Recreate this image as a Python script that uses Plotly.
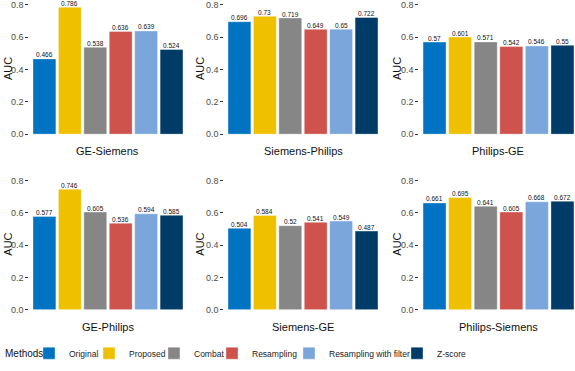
import plotly.graph_objects as go

methods = ["Original", "Proposed", "Combat", "Resampling", "Resampling with filter", "Z-score"]
colors = ["#0073C2", "#EFC000", "#868686", "#CD534C", "#7AA6DC", "#003C67"]
panels = ["GE-Siemens", "Siemens-Philips", "Philips-GE", "GE-Philips", "Siemens-GE", "Philips-Siemens"]
# values per panel, in method order
ge_siemens = [0.466, 0.786, 0.538, 0.636, 0.639, 0.524]
siemens_philips = [0.696, 0.73, 0.719, 0.649, 0.65, 0.722]
philips_ge = [0.57, 0.601, 0.571, 0.542, 0.546, 0.55]
ge_philips = [0.577, 0.746, 0.605, 0.536, 0.594, 0.585]
siemens_ge = [0.504, 0.584, 0.52, 0.541, 0.549, 0.487]
philips_siemens = [0.661, 0.695, 0.641, 0.605, 0.668, 0.672]
panel_values = [ge_siemens, siemens_philips, philips_ge, ge_philips, siemens_ge, philips_siemens]
y_ticks = [0.0, 0.2, 0.4, 0.6, 0.8]

W, H = 575, 371
FONT = "Liberation Sans, Arial, sans-serif"

def fx(px):
    return px / W

def fy(py):
    return 1 - py / H

col_px = [(29.2, 186.8), (224.2, 381.8), (419.2, 575.0)]
col_range = [[-0.6, 5.6], [-0.6, 5.6], [-0.6, 5.49]]
row_px = [(0.0, 136.0), (178.0, 314.0)]  # top, bottom (y=0 at bottom)
YMAX = 0.8305
legend_key_px = [43, 103, 168, 226, 303, 411]

fig = go.Figure()
layout = {}
annotations = []

for p, name in enumerate(panels):
    r, c = divmod(p, 3)
    idx = p + 1
    xa = "x" if idx == 1 else f"x{idx}"
    ya = "y" if idx == 1 else f"y{idx}"
    vals = panel_values[p]
    for m, meth in enumerate(methods):
        fig.add_trace(go.Bar(
            x=[meth], y=[vals[m]], name=meth,
            marker=dict(color=colors[m], line=dict(color="rgba(255,255,255,0.45)", width=0.8)),
            width=0.9, xaxis=xa, yaxis=ya, showlegend=(p == 0), legendgroup=meth,
            legend="legend" if m == 0 else f"legend{m + 1}",
            hoverinfo="skip",
        ))
        annotations.append(dict(text=f"{vals[m]:g}", x=meth, y=vals[m], xref=xa, yref=ya,
                                showarrow=False, xanchor="center", yanchor="bottom",
                                borderpad=0, yshift=-0.5,
                                font=dict(size=6.5, color="#111111", family=FONT)))
    xkey = "xaxis" if idx == 1 else f"xaxis{idx}"
    ykey = "yaxis" if idx == 1 else f"yaxis{idx}"
    top, bot = row_px[r]
    layout[xkey] = dict(domain=[fx(col_px[c][0]), fx(col_px[c][1])], anchor=ya,
                        type="category", categoryorder="array", categoryarray=methods,
                        range=col_range[c], showticklabels=False, ticks="",
                        showline=False, showgrid=False, zeroline=False, fixedrange=True)
    layout[ykey] = dict(domain=[fy(bot), fy(top)], anchor=xa, range=[0, YMAX],
                        tickvals=y_ticks, ticktext=[f"{v:.1f}" for v in y_ticks],
                        ticks="outside", ticklen=3, tickwidth=1, tickcolor="#333333",
                        tickfont=dict(size=9, color="#4D4D4D", family=FONT),
                        showline=False, showgrid=False, zeroline=False, fixedrange=True)
    cx = (col_px[c][0] + col_px[c][1]) / 2 if c < 2 else 498
    annotations.append(dict(text=name, x=fx(cx), y=fy(bot + 17), xref="paper", yref="paper",
                            showarrow=False, font=dict(size=11, color="#111111", family=FONT),
                            xanchor="center", yanchor="middle"))
    ax_px = [8, 200, 397][c]
    annotations.append(dict(text="AUC", x=fx(ax_px), y=fy((top + bot) / 2 + 2), xref="paper", yref="paper",
                            showarrow=False, textangle=-90,
                            font=dict(size=11, color="#111111", family=FONT),
                            xanchor="center", yanchor="middle"))

annotations.append(dict(text="Methods", x=fx(3), y=fy(358), xref="paper", yref="paper",
                        showarrow=False, font=dict(size=10, color="#111111", family=FONT),
                        xanchor="left", yanchor="middle"))

for m in range(len(methods)):
    key = "legend" if m == 0 else f"legend{m + 1}"
    layout[key] = dict(orientation="h", x=fx(legend_key_px[m] - 14), xanchor="left",
                       y=fy(358), yanchor="middle", bgcolor="rgba(0,0,0,0)",
                       font=dict(size=8.5, color="#222222", family=FONT),
                       itemclick=False, itemdoubleclick=False)

fig.update_layout(
    width=W, height=H,
    margin=dict(l=0, r=0, t=0, b=0),
    paper_bgcolor="white", plot_bgcolor="white",
    barmode="group", bargap=0.1,
    font=dict(family=FONT),
    annotations=annotations,
    **layout,
)

fig.write_html(
    "out.html",
    config={"displayModeBar": False},
    post_script="document.documentElement.style.margin='0px';document.body.style.margin='0px';"
                "document.body.style.padding='0px';document.body.style.overflow='hidden';",
)
